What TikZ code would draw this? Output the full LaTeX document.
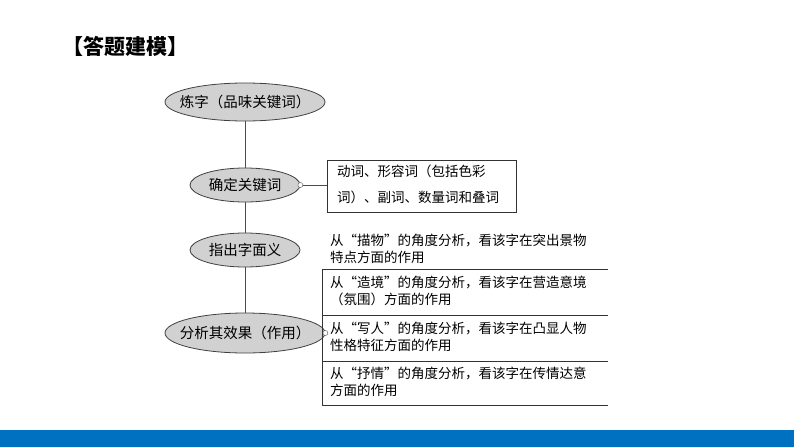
\documentclass[tikz,border=0pt]{standalone}
\usepackage{fontspec}
\usetikzlibrary{shapes.geometric}
\setmainfont{Noto Sans CJK SC}
\begin{document}
\begin{tikzpicture}[x=1pt,y=-1pt,
  ell/.style={draw=black!75,line width=0.8pt,ellipse,fill=black!18,inner ysep=0pt,inner xsep=-25pt,font=\fontsize{14.5}{16}\selectfont},
  box/.style={draw=black!80,line width=0.8pt},
  txt/.style={font=\fontsize{13.5}{17}\selectfont,align=left,anchor=north west,inner sep=0pt},
  con/.style={draw=black!70,line width=1pt}]
\useasboundingbox (0,0) rectangle (794,447);
\fill[fill={rgb,255:red,0;green,112;blue,192}] (0,430) rectangle (794,447);
\node[font=\fontsize{21}{24}\selectfont\bfseries,anchor=west,inner sep=0pt] (title) at (62,46) {【答题建模】};
\node[ell,minimum width=160,minimum height=38] (e1) at (245,102) {炼字（品味关键词）};
\node[ell,minimum width=110,minimum height=34] (e2) at (245,185) {确定关键词};
\node[ell,minimum width=110,minimum height=34] (e3) at (245,250) {指出字面义};
\node[ell,minimum width=160,minimum height=40] (e4) at (245,333) {分析其效果（作用）};
\draw[con] (e1) -- (e2); \draw[con] (e2) -- (e3); \draw[con] (e3) -- (e4);
\node[box,minimum width=189,minimum height=52,anchor=north west] (b1) at (327,160) {};
\node[txt,font=\fontsize{13.5}{26}\selectfont] (t1) at (337,165) {动词、形容词（包括色彩\\词）、副词、数量词和叠词};
\node[draw=black!70,circle,inner sep=0pt,minimum size=5,fill=white] (c1) at (e2.east) {};
\draw[con] (c1) -- (b1.west |- c1);
\node[txt] (t2) at (330,234) {从“描物”的角度分析，看该字在突出景物\\特点方面的作用};
\coordinate (p0) at (322,269); \coordinate (p1) at (322,315);
\coordinate (p2) at (322,361); \coordinate (p3) at (322,405);
\draw[box] (p0) -- (p3);
\foreach \p in {p0,p1,p2,p3} \draw[box] (\p) -- ++(286,0);
\node[txt] (t3) at (330,276) {从“造境”的角度分析，看该字在营造意境\\（氛围）方面的作用};
\node[txt] (t4) at (330,322) {从“写人”的角度分析，看该字在凸显人物\\性格特征方面的作用};
\node[txt] (t5) at (330,367) {从“抒情”的角度分析，看该字在传情达意\\方面的作用};
\node[draw=black!70,circle,inner sep=0pt,minimum size=5,fill=white] (c2) at (e4.east) {};
\end{tikzpicture}
\end{document}
